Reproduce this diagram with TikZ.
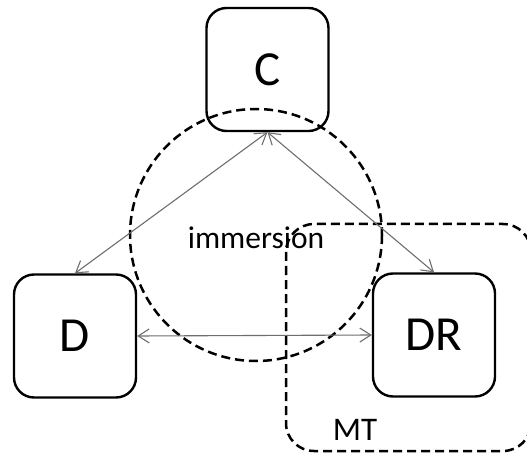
\documentclass[tikz,border=0pt]{standalone}
\usepackage{fontspec}
\setmainfont{Carlito}
\usetikzlibrary{arrows.meta}
\definecolor{arrgray}{RGB}{110,110,110}
\tikzset{
  box/.style={draw=black, line width=2.4pt, rounded corners=20pt, minimum width=122pt, minimum height=123pt, inner sep=0pt, font=\fontsize{49}{53}\selectfont},
  region/.style={draw=black, line width=2.5pt, dash pattern=on 9pt off 5pt},
  link/.style={draw=arrgray, line width=1.1pt, {Straight Barb[length=11pt,width=14pt]}-{Straight Barb[length=11pt,width=14pt]}},
  lbl/.style={inner sep=0pt, font=\fontsize{31.5}{34}\selectfont}
}
\begin{document}
\begin{tikzpicture}[x=1pt,y=-1pt]
\clip (0,0) rectangle (527,454);
\fill[white] (0,0) rectangle (527,454);
% nodes
\node[box] (C) at (267.5,69.5) {C};
\node[box] (D) at (75,336) {D};
\node[box] (DR) at (434,335) {DR};
% regions
\node[lbl] (imm) at (256,238) {immersion};
\coordinate (cc) at (256,235);
\draw[region] (cc) circle[radius=126];
\draw[region, rounded corners=28pt] (286,224) rectangle (531,451);
\node[lbl, font=\fontsize{33}{36}\selectfont] (MT) at (355,430) {MT};
% connectors
\draw[link] (C.south) -- (D.north);
\draw[link] (C.south) -- (DR.north);
\draw[link] (D.east) -- (DR.west);
\end{tikzpicture}
\end{document}
